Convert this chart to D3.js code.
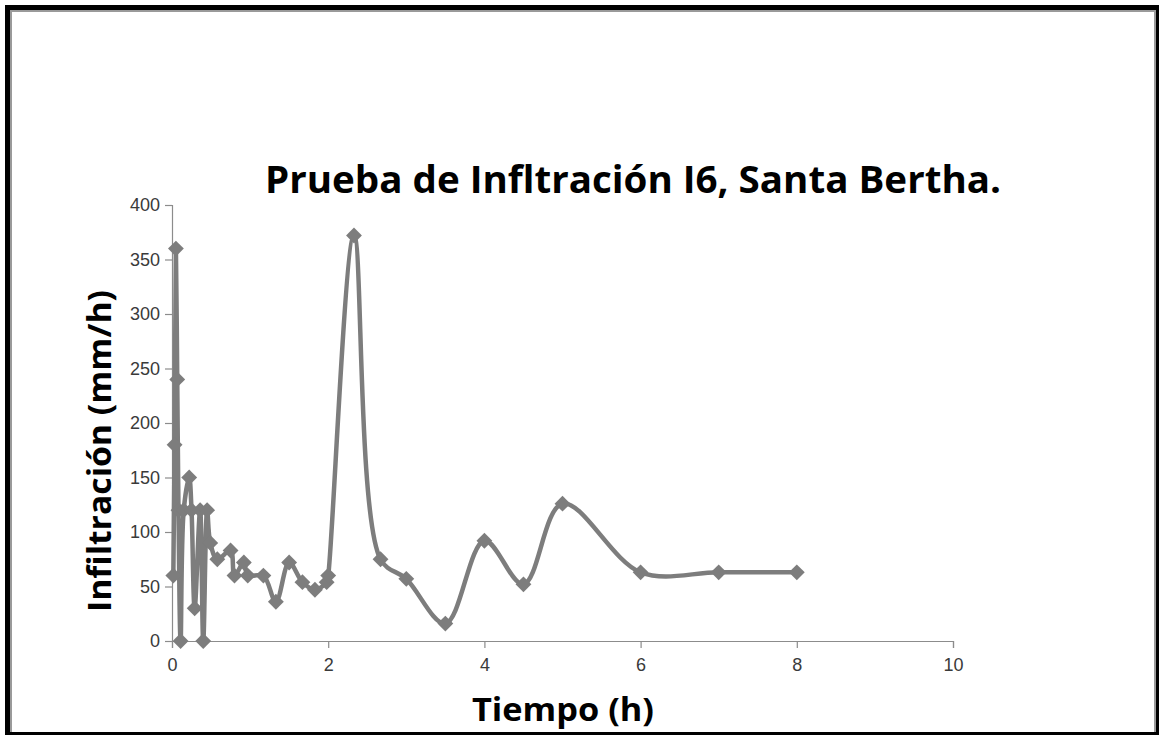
<!DOCTYPE html>
<html lang="es">
<head>
<meta charset="utf-8">
<title>Prueba de Infiltración I6</title>
<script src="https://cdn.jsdelivr.net/npm/d3@7"></script>
<style>
  body { margin: 0; background: #fff; }
  svg { display: block; }
</style>
</head>
<body>
<script>
// tiempo (h) e infiltracion (mm/h)
var tiempo = [0.017, 0.033, 0.05, 0.067, 0.083, 0.11, 0.15, 0.22, 0.25, 0.29, 0.36, 0.4, 0.45, 0.49,
              0.58, 0.75, 0.8, 0.92, 0.97, 1.17, 1.33, 1.5, 1.67, 1.83, 1.98, 2.0,
              2.33, 2.67, 3.0, 3.5, 4.0, 4.5, 5.0, 6.0, 7.0, 8.0];
var infiltracion = [60, 180, 360, 240, 120, 0, 120, 150, 120, 30, 120, 0, 120, 90,
                    75, 83, 60, 72, 60, 60, 36, 72, 54, 47, 54, 60,
                    372, 75, 57, 16, 92, 52, 126, 63, 63, 63];
var xTicks = [0, 2, 4, 6, 8, 10];
var yTicks = [0, 50, 100, 150, 200, 250, 300, 350, 400];

var W = 1160, H = 735;
var gray = "#7d7d7d";

var svg = d3.select("body").append("svg")
  .attr("width", W)
  .attr("height", H);

// marco
svg.append("rect").attr("x", 0).attr("y", 0).attr("width", W).attr("height", H).attr("fill", "#fff");
svg.append("rect")
  .attr("x", 7.5).attr("y", 7.5).attr("width", 1149).attr("height", 727)
  .attr("fill", "none").attr("stroke", "#000").attr("stroke-width", 5);
svg.append("path")
  .attr("d", "M11,732 V11 H1155 V732")
  .attr("fill", "none").attr("stroke", "#9a9a9a").attr("stroke-width", 2);

var x = d3.scaleLinear().domain([0, 10]).range([172, 953]);
var y = d3.scaleLinear().domain([0, 400]).range([641, 205]);

// ejes
var xAxis = svg.append("g")
  .attr("transform", "translate(0," + y(0) + ")")
  .call(d3.axisBottom(x).tickValues(xTicks).tickSize(7).tickPadding(10).tickFormat(d3.format("d")));
var yAxis = svg.append("g")
  .attr("transform", "translate(" + x(0) + ",0)")
  .call(d3.axisLeft(y).tickValues(yTicks).tickSize(7).tickPadding(5).tickFormat(d3.format("d")));

[xAxis, yAxis].forEach(function(g) {
  g.select(".domain").attr("stroke", "#8c8c8c").attr("stroke-width", 1.2);
  g.selectAll(".tick line").attr("stroke", "#8c8c8c").attr("stroke-width", 1.2);
  g.selectAll(".tick text")
    .attr("fill", "#3a3a3a")
    .style("font-family", "'Liberation Sans', Arial, sans-serif")
    .style("font-size", "18px");
});

// datos
var datos = tiempo.map(function(t, i) { return [t, infiltracion[i]]; });

var linea = d3.line()
  .x(function(d) { return x(d[0]); })
  .y(function(d) { return y(d[1]); })
  .curve(d3.curveCatmullRom.alpha(0.5));

svg.append("path")
  .datum(datos)
  .attr("d", linea)
  .attr("fill", "none")
  .attr("stroke", gray)
  .attr("stroke-width", 4.5)
  .attr("stroke-linejoin", "round");

svg.selectAll("path.punto")
  .data(datos)
  .enter()
  .append("path")
  .attr("class", "punto")
  .attr("d", d3.symbol().type(d3.symbolDiamond2).size(160))
  .attr("transform", function(d) { return "translate(" + x(d[0]) + "," + y(d[1]) + ")"; })
  .attr("fill", gray);

// textos
svg.append("text")
  .attr("x", 633).attr("y", 193)
  .attr("text-anchor", "middle")
  .attr("textLength", 736).attr("lengthAdjust", "spacingAndGlyphs")
  .style("font-family", "'Open Sans', 'Liberation Sans', sans-serif")
  .style("font-weight", "bold")
  .style("font-size", "38px")
  .attr("fill", "#000")
  .text("Prueba de Infltración I6, Santa Bertha.");

svg.append("text")
  .attr("x", 563).attr("y", 721)
  .attr("text-anchor", "middle")
  .attr("textLength", 182).attr("lengthAdjust", "spacingAndGlyphs")
  .style("font-family", "'Open Sans', 'Liberation Sans', sans-serif")
  .style("font-weight", "bold")
  .style("font-size", "33px")
  .attr("fill", "#000")
  .text("Tiempo (h)");

svg.append("text")
  .attr("transform", "translate(111,451) rotate(-90)")
  .attr("text-anchor", "middle")
  .attr("textLength", 322).attr("lengthAdjust", "spacingAndGlyphs")
  .style("font-family", "'Open Sans', 'Liberation Sans', sans-serif")
  .style("font-weight", "bold")
  .style("font-size", "33px")
  .attr("fill", "#000")
  .text("Infiltración (mm/h)");
</script>
</body>
</html>
